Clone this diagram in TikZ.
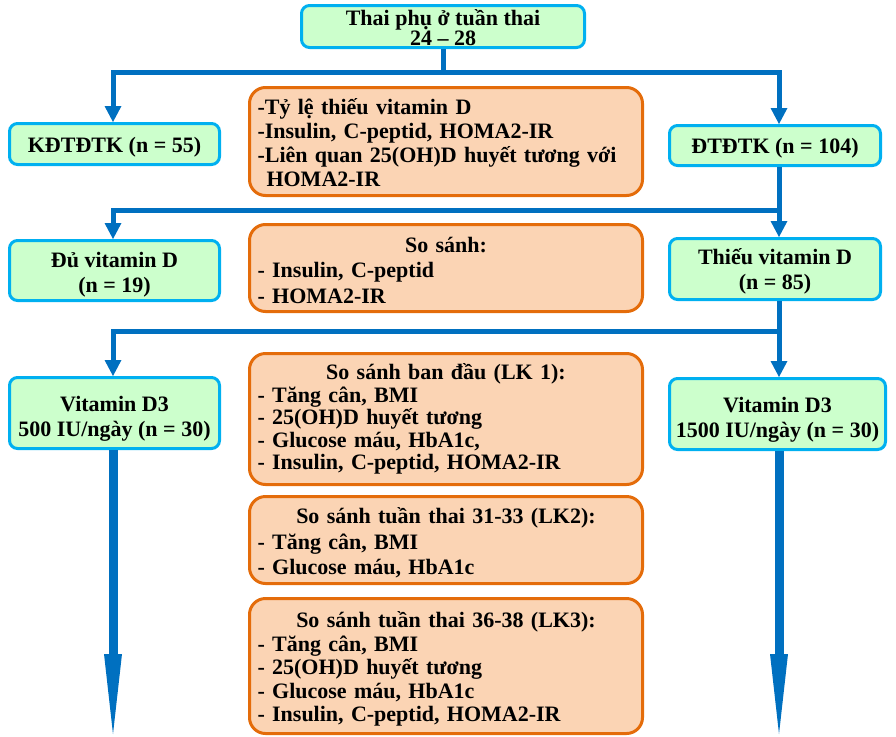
\documentclass[tikz,border=0pt]{standalone}
\usepackage{fontspec}
\setmainfont{Liberation Serif}
\usetikzlibrary{arrows.meta}
\definecolor{gfill}{HTML}{CCFFCC}
\definecolor{gline}{HTML}{00B0F0}
\definecolor{ofill}{HTML}{FBD4B4}
\definecolor{oline}{HTML}{E46C0A}
\definecolor{cblue}{HTML}{0070C0}
\newcommand\ttl[1]{\makebox[377pt][c]{#1}}
\newcommand\fs[1]{\bfseries\fontsize{22}{#1}\selectfont}
\begin{document}
\begin{tikzpicture}[x=1pt,y=-1pt,
  gbox/.style={draw=gline, fill=gfill, line width=3pt, rounded corners=8pt, inner sep=0pt},
  gtxt/.style={align=center, inner sep=0pt, font=\fs{25}},
  obox/.style={draw=oline, fill=ofill, line width=3pt, rounded corners=16pt,
    minimum width=393pt, inner sep=0pt},
  otxt/.style={text width=377pt, align=left, inner sep=0pt, font=\fs{24}},
  link/.style={draw=cblue, line width=5pt},
  tip/.style={-{Triangle[width=17pt,length=16pt,line width=0pt]}},
  bigtip/.style={line width=9pt, -{Triangle[width=18pt,length=80pt,line width=0pt]}}]
\useasboundingbox (0,0) rectangle (896,736);

% boxes
\node[gbox, minimum width=283pt, minimum height=42pt] (top) at (443,26.5) {};
\node[gtxt, font=\fs{16}, yshift=-1pt] (topt) at (top) {Thai phụ ở tuần thai\\24 – 28};

\node[gbox, minimum width=210pt, minimum height=41pt] (kd) at (114.5,144) {};
\node[gtxt, yshift=-3pt] (kdt) at (kd) {KĐTĐTK (n = 55)};

\node[obox, minimum height=108pt] (o1) at (446,141.5) {};
\node[otxt, yshift=-1pt] (o1t) at (o1)
  {-Tỷ lệ thiếu vitamin D\\-Insulin, C-peptid, HOMA2-IR\\-Liên quan 25(OH)D huyết tương với\\\hspace*{9pt}HOMA2-IR};

\node[gbox, minimum width=211pt, minimum height=40pt] (dt) at (775,145.5) {};
\node[gtxt, yshift=-3pt] (dtt) at (dt) {ĐTĐTK (n = 104)};

\node[gbox, minimum width=210pt, minimum height=60pt] (du) at (114.5,270.5) {};
\node[gtxt, yshift=-4pt] (dut) at (du) {Đủ vitamin D\\(n = 19)};

\node[obox, minimum height=87pt] (o2) at (446,268) {};
\node[otxt, font=\fs{25.5}, yshift=-2pt] (o2t) at (o2)
  {\ttl{So sánh:}\\- Insulin, C-peptid\\- HOMA2-IR};

\node[gbox, minimum width=211pt, minimum height=61pt] (th) at (775,269) {};
\node[gtxt, yshift=-2.5pt] (tht) at (th) {Thiếu vitamin D\\(n = 85)};

\node[gbox, minimum width=210pt, minimum height=71pt] (v1) at (114.5,413) {};
\node[gtxt, yshift=-6pt] (v1t) at (v1) {Vitamin D3\\500 IU/ngày (n = 30)};

\node[obox, minimum height=131pt] (o3) at (446,419) {};
\node[otxt, font=\fs{22.5}] (o3t) at (o3)
  {\ttl{So sánh ban đầu (LK 1):}\\- Tăng cân, BMI\\- 25(OH)D huyết tương\\- Glucose máu, HbA1c,\\- Insulin, C-peptid, HOMA2-IR};

\node[gbox, minimum width=216pt, minimum height=71pt] (v2) at (777.5,414) {};
\node[gtxt, yshift=-6pt] (v2t) at (v2) {Vitamin D3\\1500 IU/ngày (n = 30)};

\node[obox, minimum height=87pt] (o4) at (446,540) {};
\node[otxt, font=\fs{25.5}, yshift=-3pt] (o4t) at (o4)
  {\ttl{So sánh tuần thai 31-33 (LK2):}\\- Tăng cân, BMI\\- Glucose máu, HbA1c};

\node[obox, minimum height=135pt] (o5) at (446,666) {};
\node[otxt, font=\fs{23.5}, yshift=-3pt] (o5t) at (o5)
  {\ttl{So sánh tuần thai 36-38 (LK3):}\\- Tăng cân, BMI\\- 25(OH)D huyết tương\\- Glucose máu, HbA1c\\- Insulin, C-peptid, HOMA2-IR};

% connectors
\coordinate (a1) at (113,72); \coordinate (b1) at (779,72);
\draw[link] (top.south) -- (top.south |- a1);
\draw[link,tip] (top.south |- a1) -- (a1) -- (kd.north -| a1);
\draw[link,tip] (top.south |- a1) -- (b1) -- (dt.north -| b1);

\coordinate (a2) at (113,210); \coordinate (b2) at (779,210);
\draw[link,tip] (dt.south -| b2) -- (b2) -- (th.north -| b2);
\draw[link,tip] (b2) -- (a2) -- (du.north -| a2);

\coordinate (a3) at (113,331); \coordinate (b3) at (779,331);
\draw[link,tip] (th.south -| b3) -- (b3) -- (v2.north -| b3);
\draw[link,tip] (b3) -- (a3) -- (v1.north -| a3);

\coordinate (e1) at (113,734); \coordinate (e2) at (779,734);
\draw[link,bigtip] (v1.south -| e1) -- (e1);
\draw[link,bigtip] (v2.south -| e2) -- (e2);
\end{tikzpicture}
\end{document}
